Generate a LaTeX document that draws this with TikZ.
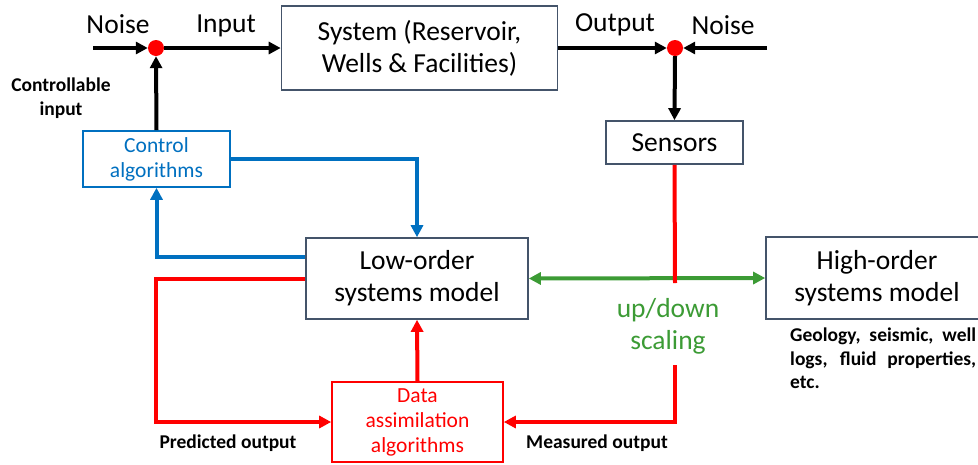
\documentclass[tikz,border=0pt]{standalone}
\usepackage{fontspec}
\setmainfont{Carlito}
\usetikzlibrary{arrows.meta,calc}
\definecolor{boxgray}{RGB}{68,84,106}
\definecolor{ctrlblue}{RGB}{0,112,192}
\definecolor{sigred}{RGB}{255,0,0}
\definecolor{scalegreen}{RGB}{60,155,53}
\tikzset{
  blk/.style={draw=boxgray, line width=1.6pt, fill=white, align=center, inner sep=0pt,
    font=\fontsize{27.5}{32}\selectfont},
  algo/.style={font=\fontsize{21.5}{25}\selectfont},
  sumdot/.style={circle, fill=sigred, minimum size=16pt, inner sep=0pt},
  tip/.style={-{Triangle[length=12pt,width=12pt]}},
  wire/.style={line width=4pt},
  blackwire/.style={wire, black, tip},
  bluewire/.style={wire, ctrlblue, tip},
  redwire/.style={wire, sigred, tip},
  lbl/.style={font=\fontsize{27.5}{32}\selectfont, inner sep=0pt},
  note/.style={font=\fontsize{19.5}{23.5}\selectfont\bfseries, align=center, inner sep=0pt},
}
\begin{document}
\begin{tikzpicture}[x=1pt, y=-1pt]
\useasboundingbox (0,0) rectangle (978,464);

% blocks
\node[blk, minimum width=276pt, minimum height=84pt] (sys) at (419.5,48)
  {System (Reservoir,\\Wells \& Facilities)};
\node[blk, minimum width=137pt, minimum height=43pt] (sens) at (674.5,142.5) {Sensors};
\node[blk, algo, draw=ctrlblue, text=ctrlblue, minimum width=147pt, minimum height=56pt]
  (ctrl) at (156.5,159) {Control\\algorithms};
\node[blk, minimum width=222pt, minimum height=81pt] (low) at (417,278.5)
  {Low-order\\systems model};
\node[blk, algo, draw=sigred, text=sigred, minimum width=171pt, minimum height=80pt]
  (da) at (417.5,422) {Data\\assimilation\\algorithms};
\node[blk, minimum width=222pt, minimum height=82pt] (high) at (877,278)
  {High-order\\systems model};

% summing junctions
\node[sumdot] (sum1) at (156,48) {};
\node[sumdot] (sum2) at (675,48) {};

% free ends of the noise inputs and the broken sensor line
\coordinate (n1) at (93,48);
\coordinate (n2) at (767,48);
\coordinate (rtop) at (675,283);
\coordinate (rbot) at (675,365);

% labels
\node[lbl] (noise1) at (118,24) {Noise};
\node[lbl] (inp) at (226,26) {Input};
\node[lbl] (outp) at (615,25) {Output};
\node[lbl] (noise2) at (723,25) {Noise};
\node[note] (cin) at (61,98) {Controllable\\input};
\node[note] (pred) at (228,443) {Predicted output};
\node[note] (meas) at (597,443) {Measured output};
\node[lbl, text=scalegreen, align=center] (scl) at (668,326) {up/down\\scaling};
\node[note, text width=186pt, align=justify, anchor=north west] (geo) at (790,328)
  {Geology, seismic, well logs, fluid properties, etc.};

% signal path through the plant
\draw[blackwire] (n1) -- (sum1.west);
\draw[blackwire] (sum1.east) -- (sys.west);
\draw[blackwire] (sys.east) -- (sum2.west);
\draw[blackwire] (n2) -- (sum2.east);
\draw[blackwire] (sum2.south) -- (sens.north);
\draw[blackwire] (ctrl.north) -- (sum1.south);

% control loop
\draw[bluewire] (ctrl.east) -| (low.north);
\draw[bluewire] ($(low.west)+(0,-21.5)$) -| (ctrl.south);

% scaling link
\draw[wire, scalegreen, {Triangle[length=12pt,width=12pt]}-{Triangle[length=12pt,width=12pt]}]
  (low.east) -- (high.west);

% data assimilation loop
\draw[wire, sigred] (sens.south) -- (rtop);
\draw[redwire] (rbot) |- (da.east);
\draw[redwire] (low.west) -- ++(-149,0) |- (da.west);
\draw[redwire] (da.north) -- (low.south);
\end{tikzpicture}
\end{document}
